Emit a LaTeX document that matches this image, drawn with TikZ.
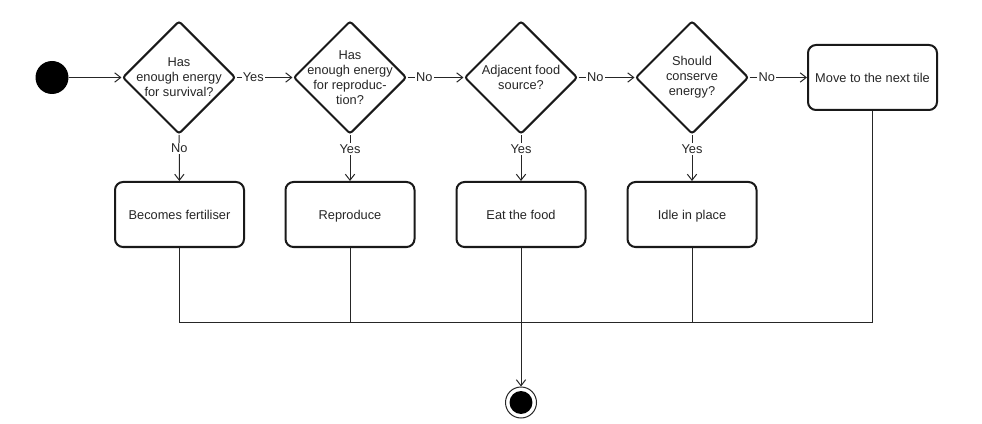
\documentclass[tikz,border=0pt]{standalone}
\usepackage{fontspec}
\setmainfont{Liberation Sans}
\usepackage{tikz}
\usetikzlibrary{arrows.meta, shapes.geometric, positioning}

\begin{document}
\begin{tikzpicture}[x=0.75pt, y=-0.75pt,
    font=\fontsize{9.6}{11.25}\selectfont, text=black!85,
    decision/.style={diamond, draw=black!90, line width=1.5pt, fill=white, aspect=1, rounded corners=2pt,
        minimum width=84.75pt, minimum height=84.75pt, inner sep=-8pt, align=center},
    action/.style={rectangle, rounded corners=6pt, draw=black!90, line width=1.5pt, fill=white,
        minimum width=96.75pt, minimum height=48.75pt, text height=8pt, text depth=1pt, align=center},
    startnode/.style={circle, fill=black, minimum size=24.75pt, inner sep=0pt},
    endnode/.style={circle, draw=black!85, line width=0.75pt, fill=white, minimum size=23.25pt, inner sep=0pt,
        path picture={\fill[black] (path picture bounding box.center) circle (8.6pt);}},
    flow/.style={draw=black!85, line width=0.75pt},
    arr/.style={flow, -{Straight Barb[length=4.5pt, width=7pt]}},
    answer/.style={fill=white, inner sep=1pt, pos=0.3}]
    \useasboundingbox (0,0) rectangle (982,424);

    % Start and the decisions
    \node[startnode] (start) at (52,77.5) {};
    \node[decision] (d1) at (179,77.5) {Has\\enough energy\\for survival?};
    \node[decision] (d2) at (350,77.5) {Has\\enough energy\\for reproduc-\\tion?};
    \node[decision] (d3) at (521,77.5) {Adjacent food\\source?};
    \node[decision] (d4) at (692,77.5) {Should\\conserve\\energy?};
    \node[action] (move) at (872.5,77.5) {Move to the next tile};

    % Actions
    \node[action] (b1) at (179.5,214.5) {Becomes fertiliser};
    \node[action] (b2) at (350,214.5) {Reproduce};
    \node[action] (b3) at (521,214.5) {Eat the food};
    \node[action] (b4) at (692,214.5) {Idle in place};

    % End
    \node[endnode] (end) at (521,402.5) {};
    \coordinate (bus) at (521,322.7);

    % Main row
    \draw[arr] (start) -- (d1);
    \draw[arr] (d1) -- node[answer] {Yes} (d2);
    \draw[arr] (d2) -- node[answer] {No} (d3);
    \draw[arr] (d3) -- node[answer] {No} (d4);
    \draw[arr] (d4) -- node[answer] {No} (move);

    % Down to the actions
    \draw[arr] (d1) -- node[answer] {No} (b1);
    \foreach \i in {2,3,4} {
        \draw[arr] (d\i) -- node[answer] {Yes} (b\i);
    }

    % Back to the end
    \foreach \b in {b1,b2,b4,move} {
        \draw[flow] (\b.south) |- (bus);
    }
    \draw[arr] (b3.south) -- (end);
\end{tikzpicture}
\end{document}
